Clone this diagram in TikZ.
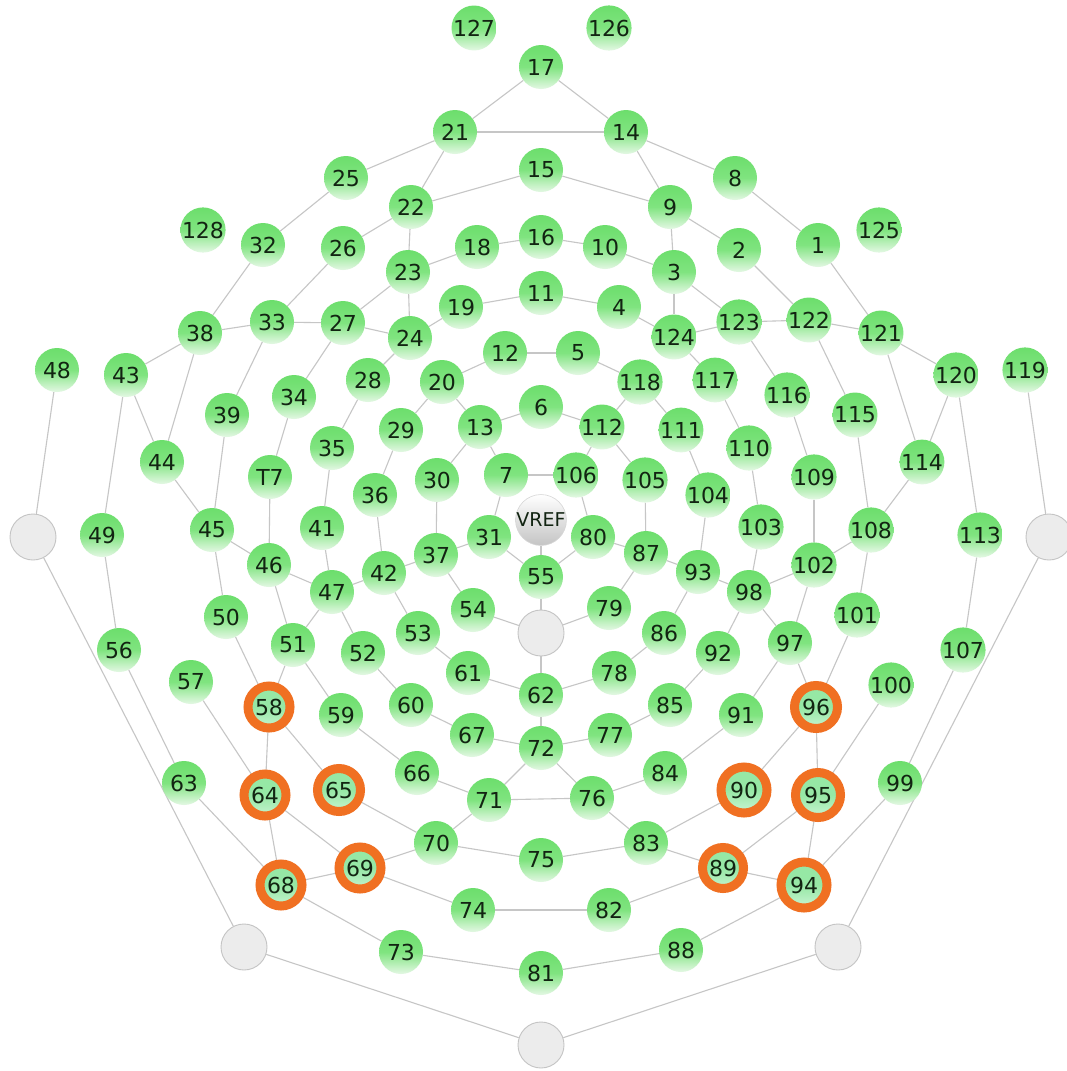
\documentclass[tikz,border=0pt]{standalone}
\usepackage{fontspec}
\setmainfont{DejaVu Sans}
\usetikzlibrary{backgrounds}

\definecolor{wiregrey}{RGB}{198,198,198}
\definecolor{padtop}{RGB}{108,222,108}
\definecolor{padmid}{RGB}{128,228,128}
\definecolor{padbot}{RGB}{228,248,228}
\definecolor{seltop}{RGB}{150,232,165}
\definecolor{selbot}{RGB}{200,244,210}
\definecolor{ringorange}{RGB}{240,112,34}
\definecolor{labelink}{RGB}{18,36,18}
\definecolor{blankfill}{RGB}{236,236,236}
\definecolor{blankline}{RGB}{196,196,196}

\tikzset{
  pad/.style={circle, minimum size=44pt, inner sep=0pt,
    top color=padtop, bottom color=padbot, middle color=padmid,
    text=labelink, font=\fontsize{22}{25}\selectfont},
  selpad/.style={pad, top color=seltop, bottom color=selbot, middle color=seltop},
  blank/.style={circle, minimum size=46pt, inner sep=0pt,
    fill=blankfill, draw=blankline, line width=0.9pt},
  refpad/.style={circle, minimum size=46pt, inner sep=0pt,
    top color=white, bottom color=blankline, draw=blankline!70!white, line width=0.6pt,
    text=labelink, font=\fontsize{19}{22}\selectfont},
  wire/.style={draw=wiregrey, line width=1.1pt},
  ring/.style={draw=ringorange, line width=9pt},
}

\begin{document}
\begin{tikzpicture}[x=1pt, y=-1pt]
\useasboundingbox (0,0) rectangle (1067,1071);

% unused reference sites
\foreach \n/\x/\y in {L/33/537, R/1049/537, C/541/633, LL/244/947, RR/838/947, B/541/1045}
  \node[blank] (n\n) at (\x,\y) {};
\node[refpad] (nVREF) at (541,520) {VREF};

% electrode pads
\foreach \n/\x/\y in {
  127/474/28, 126/609/28, 17/541/67, 21/455/132, 14/626/132, 25/346/178,
  15/541/170, 8/735/178, 22/411/207, 9/670/207, 128/203/230, 32/263/245,
  26/343/248, 18/477/247, 16/541/237, 10/605/247, 2/739/250, 1/818/245,
  125/879/230, 23/408/272, 3/674/272, 38/200/333, 33/272/322, 27/343/323,
  24/410/338, 19/461/307, 11/541/293, 4/619/307, 124/674/337, 123/739/322,
  122/809/320, 121/881/333,
  48/57/370, 43/126/375, 12/505/353, 5/578/353, 118/640/382, 117/715/380,
  120/956/375, 119/1025/370, 28/368/380, 20/442/382, 34/294/397, 39/227/415,
  116/787/395, 115/855/415, 29/401/430, 13/480/427, 6/541/407, 112/602/427,
  111/681/430, 44/162/462, 35/332/448, 110/749/448, 114/922/462, T7/270/477,
  36/375/495, 30/437/480, 7/506/475, 106/576/475, 105/645/480, 104/708/495,
  109/814/477, 103/761/527, 108/871/530, 49/102/535, 45/212/530, 41/322/528,
  31/489/537, 80/593/537, 113/980/535, 37/436/555, 87/646/553, 46/269/565,
  102/814/565, 42/384/573, 93/698/572, 47/332/592, 98/749/592, 55/541/577,
  54/473/610, 79/609/608, 50/226/617, 101/857/615, 51/293/645, 97/790/643,
  52/363/653, 92/718/653, 53/418/633, 86/664/633, 61/468/673, 78/614/673,
  56/119/650, 107/963/650, 57/191/682, 100/891/685,
  59/341/715, 91/741/715, 60/411/705, 85/670/705, 62/541/695, 67/472/735,
  77/610/735, 72/541/748, 63/184/783, 99/900/783, 66/417/773, 84/665/773,
  71/489/800, 76/592/798, 70/436/843, 83/646/843, 75/541/860, 74/473/910,
  82/609/910, 73/401/952, 88/681/950, 81/541/973}
  \node[pad] (n\n) at (\x,\y) {\n};

% highlighted pads
\foreach \n/\x/\y/\r in {58/269/707/21, 96/816/707/21.5, 64/265/795/21,
  95/818/795/22.5, 65/339/790/21.5, 90/744/790/23, 69/360/868/21,
  89/723/868/20.5, 68/281/885/21, 94/804/885/23} {
  \node[selpad] (n\n) at (\x,\y) {\n};
  \draw[ring] (n\n.center) circle[radius=\r pt];
}

% connections between neighbouring sites, behind the pads
\begin{scope}[on background layer]
\fill[white] (0,0) rectangle (1067,1071);
\foreach \a/\b in {
  17/21, 17/14, 21/14, 21/25, 21/22, 14/8, 14/9,
  22/15, 15/9, 22/26, 9/2, 22/23, 9/3,
  25/32, 8/1, 23/18, 18/16, 16/10, 10/3,
  23/24, 3/124, 23/27, 3/123,
  19/11, 11/4, 24/19, 4/124,
  32/38, 1/121, 26/33, 2/122,
  38/33, 33/27, 27/24, 121/122, 122/123, 123/124,
  38/43, 121/120, 33/39, 122/115, 27/34, 123/116, 24/28, 124/117,
  20/12, 12/5, 5/118, 20/29, 118/111, 20/13, 118/112,
  13/6, 6/112, 13/7, 112/106, 7/106, 13/30, 112/105,
  29/36, 111/104, 28/35, 117/110, 35/41, 110/103, 34/T7, 116/109,
  39/45, 115/108, 43/44, 120/114, 38/44, 121/114, 43/49, 120/113,
  48/L, 119/R, 44/45, 114/108, 45/46, 108/102, T7/46, 109/102,
  46/47, 102/98, 41/47, 103/98, 47/42, 98/93, 36/42, 104/93,
  42/37, 93/87, 30/37, 105/87, 37/31, 87/80, 7/31, 106/80,
  31/55, 80/55, VREF/55, 55/C, 37/54, 87/79, 54/C, 79/C, C/62,
  42/53, 93/86, 53/61, 86/78, 61/62, 62/78, 62/72,
  47/52, 98/92, 52/60, 92/85, 60/67, 85/77, 67/72, 72/77,
  47/51, 98/97, 46/51, 102/97, 45/50, 108/101,
  51/58, 97/96, 50/58, 101/96, 51/59, 97/91, 59/66, 91/84, 66/71, 84/76,
  72/71, 72/76, 71/76, 58/64, 96/95, 58/65, 96/90, 57/64, 100/95,
  65/70, 90/83, 71/70, 76/83, 70/75, 83/75, 64/69, 95/89, 69/70, 89/83,
  64/68, 95/94, 68/69, 89/94, 69/74, 89/82, 74/82, 68/73, 94/88,
  73/81, 88/81, 63/68, 99/94, 49/56, 113/107, 56/63, 107/99,
  L/LL, R/RR, LL/B, RR/B}
  \draw[wire] (n\a) -- (n\b);
\end{scope}
\end{tikzpicture}
\end{document}
